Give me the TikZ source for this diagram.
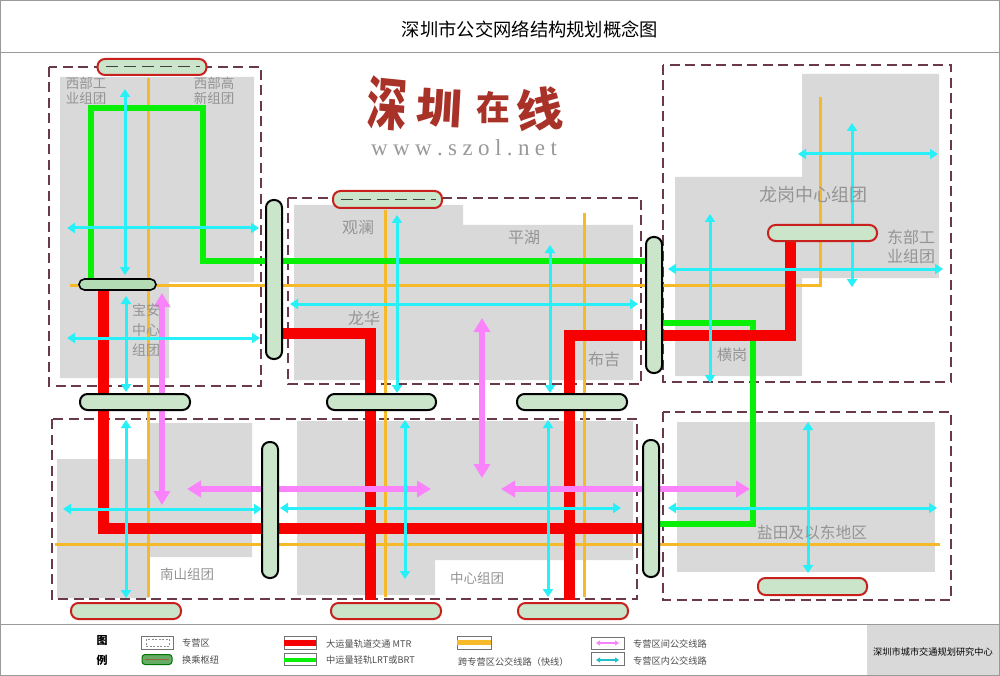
\documentclass[tikz,border=0pt]{standalone}
\usepackage{fontspec}
\setmainfont{Noto Sans CJK SC}
\newfontfamily\latinserif{Liberation Serif}
\definecolor{zone}{HTML}{D9D9D9}
\definecolor{dashc}{HTML}{6B3A4A}
\definecolor{hubfill}{HTML}{CBE5CB}
\definecolor{hubfillb}{HTML}{B4DCB4}
\definecolor{hubred}{HTML}{C8201C}
\definecolor{mtr}{HTML}{F70000}
\definecolor{lrt}{HTML}{08F008}
\definecolor{fast}{HTML}{F5B92A}
\definecolor{cyanl}{HTML}{28F0F8}
\definecolor{pinkl}{HTML}{FA82FA}
\definecolor{logo}{HTML}{A83228}
\definecolor{labelg}{HTML}{949494}
\definecolor{framec}{HTML}{9A9A9A}
\usetikzlibrary{arrows.meta}
\newcommand\wgap{\hspace{5.4pt}}
\tikzset{
 x=1pt,y=-1pt,
 zonefill/.style={fill=zone,draw=none},
 zonebox/.style={draw=dashc,line width=1.6pt,dash pattern=on 10pt off 5.5pt},
 hubr/.style={draw=hubred,fill=hubfill,line width=2pt,rounded corners=7.5pt},
 hubk/.style={draw=black,fill=hubfill,line width=2pt,rounded corners=7.5pt},
 hubs/.style={draw=black,fill=hubfillb,line width=1.6pt,rounded corners=5.5pt},
 hubdash/.style={draw=black!75,line width=1.8pt,dash pattern=on 12pt off 6pt},
 mtrl/.style={draw=mtr,line width=11pt},
 lrtl/.style={draw=lrt,line width=6pt},
 fastl/.style={draw=fast,line width=3pt},
 cy/.style={draw=cyanl,line width=3pt,{Triangle[length=8pt,width=10pt]}-{Triangle[length=8pt,width=10pt]}},
 pk/.style={draw=pinkl,line width=5.5pt,{Triangle[length=14pt,width=16pt]}-{Triangle[length=14pt,width=16pt]}},
 lab/.style={text=labelg,inner sep=0pt,align=center},
 lab16/.style={lab,font=\fontsize{16}{18}\selectfont},
 lab13/.style={lab,font=\fontsize{13.5}{14.5}\selectfont},
 leg/.style={text=black!70,font=\fontsize{9.2}{10}\selectfont,inner sep=0pt,anchor=west},
 legbox/.style={draw=black!55,line width=0.8pt,fill=white},
 legpk/.style={draw=pinkl,line width=1.5pt,{Triangle[length=4pt,width=5pt]}-{Triangle[length=4pt,width=5pt]}},
 legcy/.style={draw=cyanl!80!black,line width=1.5pt,{Triangle[length=4pt,width=5pt]}-{Triangle[length=4pt,width=5pt]}},
 logoch/.style={inner sep=0pt,text=logo,font=\bfseries},
}
\begin{document}
\begin{tikzpicture}
\useasboundingbox (0,0) rectangle (1000,676);
\fill[white] (0,0) rectangle (1000,676);
% frame
\fill[zone] (867,625) rectangle (1000,676);
\draw[framec,line width=1.2pt] (0.6,0.6) rectangle (999.4,675.4);
\draw[framec,line width=1.2pt] (0,52.5) -- (1000,52.5);
\draw[framec,line width=1.2pt] (0,624.5) -- (1000,624.5);
\node[inner sep=0pt,font=\fontsize{18.3}{20}\selectfont] (title) at (530,29) {深圳市公交网络结构规划概念图};
% zones
\fill[zonefill] (60,77) -- (254,77) -- (254,282) -- (169,282) -- (169,378) -- (60,378) -- cycle;
\fill[zonefill] (294,205) -- (463,205) -- (463,225) -- (633,225) -- (633,380) -- (294,380) -- cycle;
\fill[zonefill] (802,74) -- (939,74) -- (939,278) -- (802,278) -- (802,376) -- (675,376) -- (675,177) -- (802,177) -- cycle;
\fill[zonefill] (57,459) -- (149,459) -- (149,423) -- (252,423) -- (252,557) -- (149,557) -- (149,598) -- (57,598) -- cycle;
\fill[zonefill] (297,421) -- (633,421) -- (633,560) -- (435,560) -- (435,595) -- (297,595) -- cycle;
\fill[zonefill] (677,422) -- (935,422) -- (935,572) -- (677,572) -- cycle;
\draw[zonebox] (49,67) rectangle (261,386);
\draw[zonebox] (288,198) rectangle (641,384);
\draw[zonebox] (663,65) rectangle (951,382);
\draw[zonebox] (52,419) rectangle (637,599);
\draw[zonebox] (663,412) rectangle (951,600);
% fast lines
\draw[fastl] (148,78) -- (148,597);
\draw[fastl] (70,285.5) -- (820,285.5) -- (820,97);
\draw[fastl] (385,210) -- (385,597);
\draw[fastl] (584,213) -- (584,597);
\draw[fastl] (55,544) -- (940,544);
% green
\draw[lrtl] (91,278) -- (91,108) -- (203,108) -- (203,260.5) -- (645,260.5);
\draw[lrtl] (662,323) -- (752.5,323) -- (752.5,524) -- (660,524);
% red
\draw[mtrl] (103,290) -- (103,528.5) -- (643,528.5);
\draw[mtrl] (282,333) -- (370,333) -- (370,600);
\draw[mtrl] (569,600) -- (569,335) -- (790,335) -- (790,241);
% pink
\draw[pk] (162,293) -- (162,505);
\draw[pk] (482,318) -- (482,478);
\draw[pk] (187,489) -- (431,489);
\draw[pk] (501,489) -- (750,489);
% cyan
\draw[cy] (125,89) -- (125,275);
\draw[cy] (126,296) -- (126,392);
\draw[cy] (126,420) -- (126,598);
\draw[cy] (67,228) -- (259,228);
\draw[cy] (67,338) -- (260,338);
\draw[cy] (397,215) -- (397,393);
\draw[cy] (550,245) -- (550,393);
\draw[cy] (290,304) -- (638,304);
\draw[cy] (710,214) -- (710,383);
\draw[cy] (852,123) -- (852,287);
\draw[cy] (798,154) -- (938,154);
\draw[cy] (668,269) -- (943,269);
\draw[cy] (63,509) -- (262,509);
\draw[cy] (280,508) -- (621,508);
\draw[cy] (668,508) -- (937,508);
\draw[cy] (405,420) -- (405,579);
\draw[cy] (548,420) -- (548,597);
\draw[cy] (808,422) -- (808,573);
% hubs
\draw[hubr] (97.5,59) rectangle (206.5,75);
\draw[hubdash] (106,66.5) -- (200,66.5);
\draw[hubr] (333,191) rectangle (442,208);
\draw[hubdash] (341,199.5) -- (436,199.5);
\draw[hubr] (768,225) rectangle (877,241);
\draw[hubr] (758,578) rectangle (867,595);
\draw[hubr] (71,603) rectangle (181,619);
\draw[hubr] (331,603) rectangle (441,619);
\draw[hubr] (518,603) rectangle (628,619);
\draw[hubs] (79,279) rectangle (156,290);
\draw[hubk] (80,394) rectangle (190,410);
\draw[hubk] (327,394) rectangle (436,410);
\draw[hubk] (517,394) rectangle (627,410);
\draw[hubk] (266,200) rectangle (282,359);
\draw[hubk] (646,237) rectangle (662,373);
\draw[hubk] (262,442) rectangle (278,578);
\draw[hubk] (643,440) rectangle (659,577);
% labels
\node[lab13] at (86,91) {西部工\\业组团};
\node[lab13] at (214,91) {西部高\\新组团};
\node[lab,font=\fontsize{14}{20}\selectfont] at (146,330) {宝安\\中心\\组团};
\node[lab16] at (358,228) {观澜};
\node[lab16] at (524,238) {平湖};
\node[lab16] at (364,318) {龙华};
\node[lab16] at (604,359) {布吉};
\node[lab,font=\fontsize{18}{20}\selectfont] at (813,195) {龙岗中心组团};
\node[lab,font=\fontsize{16}{19}\selectfont] at (911,247) {东部工\\业组团};
\node[lab,font=\fontsize{15}{17}\selectfont] at (732,355) {横岗};
\node[lab13] at (187,574) {南山组团};
\node[lab13] at (477,578) {中心组团};
\node[lab,font=\fontsize{15.7}{18}\selectfont] at (812,533) {盐田及以东地区};
% logo
\node[logoch,font=\fontsize{44}{46}\selectfont\bfseries,xscale=.9,yscale=1.3,rotate=-4] at (387,104) {深};
\node[logoch,font=\fontsize{46}{48}\selectfont\bfseries,yscale=.9,rotate=-3] at (439,108) {圳};
\node[logoch,font=\fontsize{34}{36}\selectfont\bfseries] at (493,108) {在};
\node[logoch,font=\fontsize{46}{48}\selectfont\bfseries,rotate=6] at (540,110) {线};
\node[inner sep=0pt,text=black!40,font=\latinserif\fontsize{23}{25}\selectfont] at (464,148) {w\wgap w\wgap w\wgap .\wgap s\wgap z\wgap o\wgap l\wgap .\wgap n\wgap e\wgap t};
% legend
\node[inner sep=0pt,font=\fontsize{11}{13}\selectfont\bfseries] at (102,641) {图};
\node[inner sep=0pt,font=\fontsize{11}{13}\selectfont\bfseries] at (102,660) {例};
\draw[legbox] (141,636) rectangle (173,649);
\draw[black!45,line width=0.6pt,dash pattern=on 2pt off 1.5pt] (146,639) rectangle (169,646);
\draw[draw=green!45!black,fill=green!45!black!60,line width=1pt,rounded corners=3pt] (142,654.5) rectangle (172,664.5);
\draw[brown!80!black,line width=1pt] (145,659.5) -- (169,659.5);
\node[leg] at (182,643.5) {专营区};
\node[leg] at (182,660) {换乘枢纽};
\draw[legbox] (284,636) rectangle (316,649);
\fill[mtr] (284,640) rectangle (316,646);
\draw[legbox] (284,653) rectangle (316,665);
\fill[lrt] (284,657.5) rectangle (316,662);
\node[leg] at (326,644) {大运量轨道交通 MTR};
\node[leg] at (326,660) {中运量轻轨LRT或BRT};
\draw[legbox] (457,636) rectangle (491,649);
\fill[fast] (457,640) rectangle (491,644.5);
\node[leg] at (458,662) {跨专营区公交线路（快线）};
\draw[legbox] (591,637) rectangle (624,649);
\draw[legpk] (596,643) -- (619,643);
\draw[legbox] (591,652) rectangle (624,665);
\draw[legcy] (596,660) -- (619,660);
\node[leg] at (633,644) {专营区间公交线路};
\node[leg] at (633,661) {专营区内公交线路};
\node[inner sep=0pt,font=\fontsize{9.2}{11}\selectfont] at (933,652) {深圳市城市交通规划研究中心};
\end{tikzpicture}
\end{document}
